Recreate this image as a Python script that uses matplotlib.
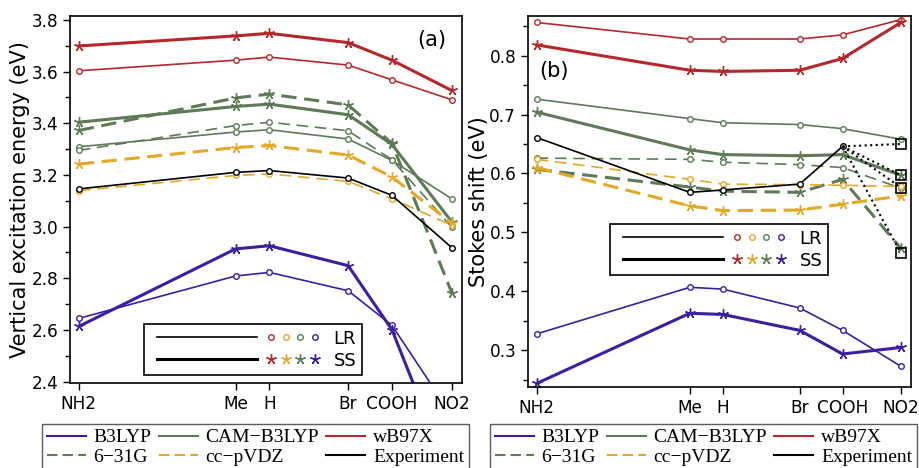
import matplotlib
matplotlib.use("Agg")
import matplotlib.pyplot as plt
from matplotlib.lines import Line2D
from matplotlib.legend_handler import HandlerBase
from matplotlib.ticker import MultipleLocator

# substituents along x, spaced as in the published figure
substituents = ["NH2", "Me", "H", "Br", "COOH", "NO2"]
x_pos = [0.0, 1.567, 1.905, 2.692, 3.13, 3.727]

# (a) vertical excitation energies, eV
vee_b3lyp_lr = [2.645, 2.809, 2.823, 2.752, 2.618, 2.27]
vee_b3lyp_ss = [2.614, 2.914, 2.926, 2.849, 2.601, 2.02]
vee_cam_lr = [3.309, 3.366, 3.375, 3.339, 3.256, 3.108]
vee_cam_ss = [3.404, 3.465, 3.474, 3.433, 3.318, 3.019]
vee_wb97x_lr = [3.603, 3.644, 3.656, 3.625, 3.568, 3.491]
vee_wb97x_ss = [3.699, 3.738, 3.748, 3.712, 3.644, 3.527]
vee_631g_lr = [3.295, 3.391, 3.404, 3.371, 3.259, 2.998]
vee_631g_ss = [3.372, 3.498, 3.513, 3.471, 3.322, 2.745]
vee_vdz_lr = [3.139, 3.198, 3.204, 3.175, 3.108, 3.005]
vee_vdz_ss = [3.242, 3.306, 3.314, 3.277, 3.192, 3.014]
vee_expt = [3.146, 3.210, 3.217, 3.188, 3.121, 2.919]

# (b) Stokes shifts, eV
ss_b3lyp_lr = [0.328, 0.407, 0.404, 0.372, 0.334, 0.273]
ss_b3lyp_ss = [0.244, 0.363, 0.361, 0.334, 0.294, 0.305]
ss_cam_lr = [0.726, 0.693, 0.686, 0.683, 0.676, 0.658]
ss_cam_ss = [0.704, 0.640, 0.632, 0.630, 0.632, 0.597]
ss_wb97x_lr = [0.856, 0.828, 0.828, 0.828, 0.835, 0.861]
ss_wb97x_ss = [0.818, 0.775, 0.773, 0.775, 0.795, 0.856]
ss_631g_lr = [0.626, 0.624, 0.619, 0.615, 0.610, 0.575]
ss_631g_ss = [0.607, 0.577, 0.570, 0.568, 0.590, 0.473]
ss_vdz_lr = [0.624, 0.590, 0.582, 0.581, 0.580, 0.578]
ss_vdz_ss = [0.610, 0.545, 0.537, 0.538, 0.548, 0.562]
ss_expt = [0.661, 0.568, 0.572, 0.582, 0.646]   # no NO2 measurement
ss_expt_no2_guess = [0.650, 0.597, 0.576, 0.465]

blue = "#3c1e9e"
green = "#5e7a56"
red = "#b3292b"
yellow = "#e3a826"
star = (5, 2, 0)

thin, thick = 1.2, 2.2
sans = "DejaVu Sans"
serif = "Liberation Serif"


def draw_pair(ax, lr, ss, color, dashed=False):
    kw_lr = dict(color=color, lw=thin, marker="o", ms=4, mew=1, mfc="white")
    kw_ss = dict(color=color, lw=thick, marker=star, ms=7.5, mew=1)
    if dashed:
        kw_lr["dashes"] = (7, 4)
        kw_ss["dashes"] = (5, 2.5)
    ax.plot(x_pos[:len(lr)], lr, **kw_lr)
    ax.plot(x_pos[:len(ss)], ss, **kw_ss)


class LineWithMarkers(HandlerBase):
    """legend entry: a black line followed by one marker per functional"""

    def __init__(self, marker, size):
        super().__init__()
        self.marker = marker
        self.size = size

    def create_artists(self, legend, orig_handle, xdescent, ydescent,
                       width, height, fontsize, trans):
        y = height / 2 - ydescent
        x0 = -xdescent
        out = [Line2D([x0 + 0.045 * width, x0 + 0.635 * width], [y, y],
                      color="black", lw=orig_handle.get_linewidth(),
                      transform=trans)]
        for i, c in enumerate([red, yellow, green, blue]):
            xm = x0 + width * (0.716 + 0.087 * i)
            out.append(Line2D([xm], [y], ls="none", marker=self.marker,
                              ms=self.size, mew=1, mfc="white", mec=c,
                              transform=trans))
        return out


def style_axes(ax):
    ax.set_xlim(-0.088, 3.83)
    ax.set_xticks(x_pos)
    ax.set_xticklabels(substituents)
    ax.tick_params(which="both", direction="out", top=False, right=False,
                   labelsize=12.2, width=1)
    ax.tick_params(which="major", length=5)
    ax.tick_params(which="minor", length=3.5)
    for s in ax.spines.values():
        s.set_linewidth(1.2)
    for t in ax.get_xticklabels() + ax.get_yticklabels():
        t.set_family(sans)


def inner_legend(ax, anchor):
    lr_h = Line2D([], [], color="black", lw=thin)
    ss_h = Line2D([], [], color="black", lw=thick)
    leg = ax.legend([lr_h, ss_h], ["LR", "SS"],
                    handler_map={lr_h: LineWithMarkers("o", 4),
                                 ss_h: LineWithMarkers(star, 7.5)},
                    loc="lower left", bbox_to_anchor=anchor,
                    prop={"family": sans, "size": 13},
                    handlelength=9.4, handletextpad=0.8, borderpad=0.3,
                    labelspacing=0.22, fancybox=False, framealpha=1,
                    edgecolor="black", borderaxespad=0)
    leg.get_frame().set_linewidth(1.2)


def bottom_legend(fig, x):
    handles = [
        Line2D([], [], color=blue, lw=1.5),
        Line2D([], [], color=green, lw=1.5, dashes=(5, 2.5)),
        Line2D([], [], color=green, lw=1.5),
        Line2D([], [], color=yellow, lw=1.5, dashes=(5, 2.5)),
        Line2D([], [], color=red, lw=1.5),
        Line2D([], [], color="black", lw=1.5),
    ]
    labels = ["B3LYP", "6\u221231G", "CAM\u2212B3LYP", "cc\u2212pVDZ",
              "wB97X", "Experiment"]
    top = 1 - 424 / 468
    leg = fig.legend(handles, labels, ncol=3, loc="upper left",
                     bbox_to_anchor=(x, top - 0.2, 427 / 919, 0.2),
                     mode="expand",
                     prop={"family": serif, "size": 14},
                     handlelength=2.0, handletextpad=0.4, columnspacing=0.5,
                     borderpad=0.25, labelspacing=0.1, fancybox=False,
                     edgecolor="#333333", borderaxespad=0)
    leg.get_frame().set_linewidth(1.0)


fig = plt.figure(figsize=(9.19, 4.68), dpi=100)
ax_a = fig.add_axes([70 / 919, 85 / 468, 392 / 919, 367 / 468])
ax_b = fig.add_axes([528 / 919, 81 / 468, 383 / 919, 371 / 468])

# panel (a)
draw_pair(ax_a, vee_b3lyp_lr, vee_b3lyp_ss, blue)
draw_pair(ax_a, vee_cam_lr, vee_cam_ss, green)
draw_pair(ax_a, vee_wb97x_lr, vee_wb97x_ss, red)
draw_pair(ax_a, vee_631g_lr, vee_631g_ss, green, dashed=True)
draw_pair(ax_a, vee_vdz_lr, vee_vdz_ss, yellow, dashed=True)
ax_a.plot(x_pos, vee_expt, color="black", lw=thin, marker="o", ms=4,
          mew=1, mfc="white")
ax_a.set_ylim(2.395, 3.815)
ax_a.yaxis.set_major_locator(MultipleLocator(0.2))
ax_a.yaxis.set_minor_locator(MultipleLocator(0.1))
ax_a.set_ylabel("Vertical excitation energy (eV)", fontsize=15,
                family=sans, labelpad=1)
ax_a.text(0.961, 0.935, "(a)", transform=ax_a.transAxes, ha="right",
          va="center", fontsize=15, family=sans)
style_axes(ax_a)
inner_legend(ax_a, ((144 - 70) / 392, (383 - 375) / 367))

# panel (b)
draw_pair(ax_b, ss_b3lyp_lr, ss_b3lyp_ss, blue)
draw_pair(ax_b, ss_cam_lr, ss_cam_ss, green)
draw_pair(ax_b, ss_wb97x_lr, ss_wb97x_ss, red)
draw_pair(ax_b, ss_631g_lr, ss_631g_ss, green, dashed=True)
draw_pair(ax_b, ss_vdz_lr, ss_vdz_ss, yellow, dashed=True)
ax_b.plot(x_pos[:len(ss_expt)], ss_expt, color="black", lw=thin,
          marker="o", ms=4, mew=1, mfc="white")
# possible NO2 values, joined to the last measured point
for v in ss_expt_no2_guess:
    ax_b.plot([x_pos[4], x_pos[5]], [ss_expt[-1], v], color="black",
              lw=1.5, ls=":")
ax_b.plot([x_pos[5]] * len(ss_expt_no2_guess), ss_expt_no2_guess,
          ls="none", marker="s", ms=7.5, mew=1.2, mfc="none", mec="black")
ax_b.set_ylim(0.238, 0.867)
ax_b.yaxis.set_major_locator(MultipleLocator(0.1))
ax_b.yaxis.set_minor_locator(MultipleLocator(0.05))
ax_b.set_ylabel("Stokes shift (eV)", fontsize=15, family=sans, labelpad=0)
ax_b.text(0.0295, 0.852, "(b)", transform=ax_b.transAxes, ha="left",
          va="center", fontsize=15, family=sans)
style_axes(ax_b)
inner_legend(ax_b, ((610 - 528) / 383, (387 - 275) / 371))

bottom_legend(fig, 42 / 919)
bottom_legend(fig, 490 / 919)

fig.savefig("out.png", dpi=100)
